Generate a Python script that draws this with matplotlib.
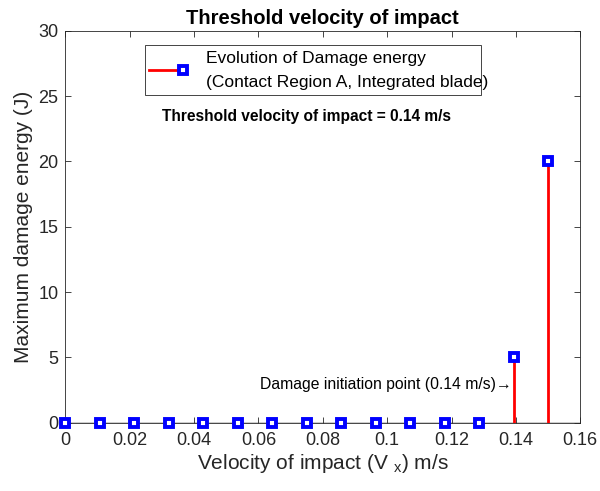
import numpy as np
import matplotlib
matplotlib.use('Agg')
import matplotlib.pyplot as plt
from matplotlib.lines import Line2D
from matplotlib.patches import Rectangle

plt.rcParams['font.family'] = ['Liberation Sans', 'DejaVu Sans']
plt.rcParams['mathtext.fontset'] = 'custom'
plt.rcParams['mathtext.rm'] = 'Liberation Sans'

# 数据
velocity = [0.0, 0.0107, 0.0214, 0.0321, 0.0429, 0.0536, 0.0643, 0.075,
            0.0857, 0.0964, 0.1071, 0.1179, 0.1286, 0.1393, 0.15]
damage_energy = [0, 0, 0, 0, 0, 0, 0, 0, 0, 0, 0, 0, 0, 5, 20]
x_ticks = [0, 0.02, 0.04, 0.06, 0.08, 0.1, 0.12, 0.14, 0.16]
y_ticks = [0, 5, 10, 15, 20, 25, 30]
legend_label = 'Evolution of Damage energy\n(Contact Region A, Integrated blade)'

axis_color = '#262626'
mk_style = dict(marker='s', ms=5.5, mew=2.8, mec='blue', mfc='white')

fig = plt.figure(figsize=(6, 4.91), dpi=100)
ax = fig.add_axes([0.1088, 0.1391, 0.8583, 0.7984])

ax.axhline(0, color='black', lw=1, zorder=1)
markerline, stemlines, baseline = ax.stem(velocity, damage_energy,
                                          linefmt='r-', markerfmt='bs',
                                          basefmt=' ')
stemlines.set_linewidth(2)
markerline.set_markersize(5.5)
markerline.set_markeredgewidth(2.8)
markerline.set_markeredgecolor('blue')
markerline.set_markerfacecolor('white')
markerline.set_zorder(3)
markerline.set_clip_on(False)

ax.set_xlim(0, 0.16)
ax.set_ylim(0, 30)
ax.set_xticks(x_ticks)
ax.set_xticklabels(['%g' % t for t in x_ticks])
ax.set_yticks(y_ticks)
ax.tick_params(direction='in', top=True, right=True, length=4,
               labelsize=13, colors=axis_color, width=0.6)
ax.tick_params(axis='x', pad=7)
ax.tick_params(axis='y', pad=5)
for s in ax.spines.values():
    s.set_color(axis_color)
    s.set_linewidth(0.6)

ax.set_title('Threshold velocity of impact', fontsize=14.5, fontweight='bold',
             pad=5)
ax.set_xlabel(r'Velocity of impact (V $_\mathregular{x}$) m/s', fontsize=15,
              color=axis_color, labelpad=2)
ax.set_ylabel('Maximum damage energy (J)', fontsize=15, color=axis_color,
              labelpad=4)

ax.text(0.02995, 23.47, 'Threshold velocity of impact = 0.14 m/s',
        fontsize=11.2, fontweight='bold', va='center', ha='left')
ax.text(0.1387, 2.89, 'Damage initiation point (0.14 m/s)\u2192', fontsize=11.3,
        va='center', ha='right', family=['Liberation Sans', 'DejaVu Sans'])

# 图例（手动画，文字略超出边框，同原图）
ax.add_patch(Rectangle((0.1542, 0.836), 0.6524, 0.1283, transform=ax.transAxes,
                       fill=True, facecolor='white', edgecolor=axis_color,
                       lw=0.6, zorder=4))
ax.add_line(Line2D([0.1628, 0.2292], [0.8997, 0.8997], color='red', lw=2,
                   transform=ax.transAxes, zorder=5))
ax.add_line(Line2D([0.2292], [0.8997], ls='none', transform=ax.transAxes,
                   zorder=6, **mk_style))
ax.text(0.2732, 0.8997, legend_label, transform=ax.transAxes, fontsize=12.5,
        va='center', ha='left', linespacing=1.75, zorder=6)

fig.savefig('out.png', dpi=100)
